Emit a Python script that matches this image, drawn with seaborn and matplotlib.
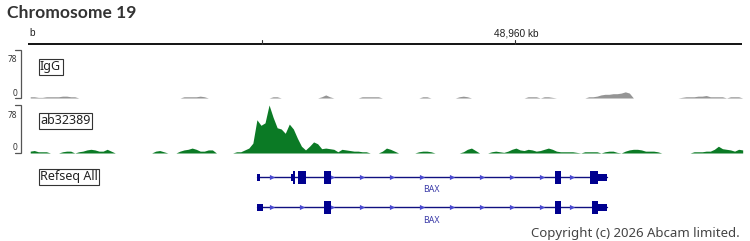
import numpy as np
import pandas as pd
import matplotlib
matplotlib.use("Agg")
import matplotlib.pyplot as plt
from matplotlib.patches import Rectangle
import seaborn as sns

# ---------------- data ----------------
chrom_title = "Chromosome 19"
region_start_kb = 48950.36
region_end_kb = 48964.52
bin_kb = 0.08
ruler_ticks_kb = [48955, 48960]
ruler_label = "48,960 kb"
track_names = ["IgG", "ab32389"]
track_max = 78

igg = ([2, 2, 1, 1, 2, 2, 2, 2, 3, 3, 2, 2] + [0] * 26 +
       [2, 2, 2, 2, 3, 2] + [0] * 16 +
       [2, 2] + [0] * 10 +
       [2, 5, 2] + [0] * 7 +
       [2, 2, 2, 2, 2] + [0] * 10 +
       [2, 2] + [0] * 7 +
       [2, 3, 2] + [0] * 14 +
       [2, 2, 2, 0, 2, 2, 1] + [0] * 8 +
       [2, 2, 3, 5, 6, 6, 7, 7, 8, 10, 8] + [0] * 12 +
       [1, 2, 2, 2, 3, 3, 4, 2, 2, 2, 2, 0, 2, 2, 2, 0])

ab32389 = ([3, 4, 2, 2, 2, 0, 0, 0, 2, 3, 3, 0, 2, 3, 5, 6, 5, 3, 3, 6, 3] + [0] * 10 +
           [3, 4, 2, 0, 0, 0] +
           [3, 5, 6, 8, 6, 3, 3, 5, 5] + [0] * 5 +
           [2, 2, 5, 8, 16, 54, 45, 49, 78, 58, 41, 39, 32, 47, 39, 24, 11, 5, 11, 18,
            15, 7, 8, 7, 6, 2, 6, 5, 4, 3, 3, 2, 2] + [0] * 3 +
           [3, 8, 6, 3] + [0] * 5 +
           [2, 3, 3, 2] + [0] * 7 +
           [2, 6, 8, 4, 0, 0, 0, 2, 3, 2, 1, 3, 6, 8, 5, 4, 6, 5, 3, 4, 6, 8, 6, 3,
            2, 2, 2, 2, 1, 0, 2, 2, 2, 2, 0, 2, 3, 3, 1, 0, 3, 5, 6, 6, 5, 3, 3, 3, 2] +
           [0] * 8 +
           [2, 2, 2, 3, 3, 6, 11, 7, 6, 5, 3, 6, 5])

gene_name = "BAX"
gene_start_kb = 48954.875
gene_end_kb = 48961.790
tx1_utr = [(48954.875, 48954.950), (48955.553, 48955.585), (48961.620, 48961.790)]
tx1_cds = [(48955.585, 48955.625), (48955.692, 48955.850), (48956.206, 48956.344),
           (48960.771, 48960.880), (48961.453, 48961.620)]
tx2_utr = [(48954.875, 48954.995), (48961.620, 48961.790)]
tx2_cds = [(48956.206, 48956.344), (48960.771, 48960.880), (48961.502, 48961.620)]
copyright_text = "Copyright (c) 2026 Abcam limited."

# ---------------- style ----------------
sns.set_theme(style="white")
plt.rcParams["font.family"] = ["Noto Sans", "DejaVu Sans"]

W, H = 750, 241
fig = plt.figure(figsize=(W / 100, H / 100), dpi=100)
fig.patch.set_facecolor("white")

XL = (48950.356, 48964.506)


def ax_px(x0, y0, x1, y1):
    return fig.add_axes([x0 / W, 1 - y1 / H, (x1 - x0) / W, (y1 - y0) / H])


# overlay axes in pixel coordinates for chrome
ov = fig.add_axes([0, 0, 1, 1])
ov.set_xlim(0, W)
ov.set_ylim(H, 0)
ov.axis("off")

ov.text(7, 12.5, chrom_title, fontsize=12.6, fontweight="bold", color="#333333",
        va="center", ha="left", family=["Lato", "DejaVu Sans"])

# ruler
rul = ax_px(28, 30, 742, 45)
rul.set_xlim(XL)
rul.set_ylim(0, 1)
rul.axis("off")
rul.axhline(0.1, color="black", lw=1.3)
for t in ruler_ticks_kb:
    rul.plot([t, t], [0.1, 0.35], color="#333333", lw=0.8)
ov.text(29, 33, "b", fontsize=7.3, color="#222222", ha="left", va="center",
        family="Liberation Sans")
ov.text(516, 33, ruler_label, fontsize=7.3, color="#222222", ha="center", va="center",
        family="Liberation Sans")

edges = region_start_kb + bin_kb * np.arange(len(ab32389) + 1)
centers = (edges[:-1] + edges[1:]) / 2
df = pd.DataFrame({"pos": centers, "IgG": igg, "ab32389": ab32389})

track_rows = [(50, 98, "IgG", "#959595", 66.5), (105, 153, "ab32389", "#0b7a25", 120.5)]
for top, bot, name, col, lab_y in track_rows:
    a = ax_px(28, top, 744, bot)
    sns.lineplot(data=df, x="pos", y=name, color=col, linewidth=0, ax=a)
    a.fill_between(df["pos"], df[name], color=col, linewidth=0)
    a.set_xlim(XL)
    a.set_ylim(0, track_max)
    a.axis("off")
    # bracket scale
    ov.plot([15, 21, 21, 15], [top, top, bot, bot], color="#555555", lw=0.9,
            solid_joinstyle="miter")
    ov.text(17, top + 10, str(track_max), fontsize=6, ha="right", va="center",
            color="#333333")
    ov.text(17, bot - 5, "0", fontsize=6, ha="right", va="center", color="#333333")
    ov.text(40, lab_y, name, fontsize=9, ha="left", va="center", color="#222222",
            bbox=dict(boxstyle="square,pad=0.12", fc="white", ec="#333333", lw=0.8))

ov.text(40, 176.5, "Refseq All", fontsize=9, ha="left", va="center", color="#222222",
        bbox=dict(boxstyle="square,pad=0.12", fc="white", ec="#333333", lw=0.8))

# gene track
g = ax_px(28, 160, 744, 230)
g.set_xlim(XL)
g.set_ylim(230, 160)
g.axis("off")
navy = "#00008f"
px_kb = (XL[1] - XL[0]) / 716.0
for yc, utr, cds, ly in [(177, tx1_utr, tx1_cds, 190), (207, tx2_utr, tx2_cds, 220)]:
    g.plot([gene_start_kb, gene_end_kb], [yc, yc], color="#101080", lw=1.0, zorder=1)
    arrows = np.arange(gene_start_kb + 15 * px_kb, gene_end_kb, 30 * px_kb)
    g.scatter(arrows, [yc] * len(arrows), marker=">", s=14, color="#4a4ad0",
              linewidths=0, zorder=2)
    for s, e in utr:
        g.add_patch(Rectangle((s, yc - 3.5), e - s, 7, color=navy, lw=0, zorder=3))
    for s, e in cds:
        g.add_patch(Rectangle((s, yc - 6.5), e - s, 13, color=navy, lw=0, zorder=3))
    g.text((gene_start_kb + gene_end_kb) / 2, ly, gene_name, fontsize=6.3, color="#3a3aa8",
           ha="center", va="center")

ov.text(740, 233, copyright_text, fontsize=9.5, color="#444444", ha="right", va="center")

fig.savefig("out.png", dpi=100)
